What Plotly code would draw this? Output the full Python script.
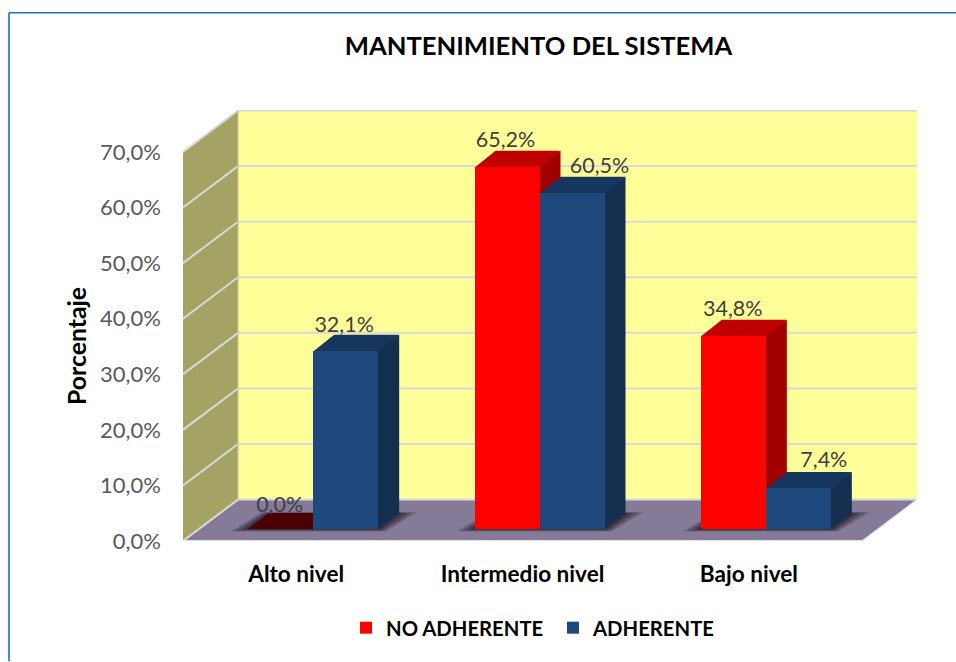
import plotly.graph_objects as go

# ---------- data ----------
categories = ["Alto nivel", "Intermedio nivel", "Bajo nivel"]
no_adherente = [0.0, 65.2, 34.8]
adherente = [32.1, 60.5, 7.4]
y_ticks = [0, 10, 20, 30, 40, 50, 60, 70]
y_tick_labels = ["0,0%", "10,0%", "20,0%", "30,0%", "40,0%", "50,0%", "60,0%", "70,0%"]
series_names = ["NO ADHERENTE", "ADHERENTE"]

# ---------- geometry (pixels of the figure, converted by the axis scale) ----------
W, H = 956, 662
L, R, T, B = 183, 917, 109.5, 541.5
PX_X = 226.33            # pixels per category
PX_Y = 5.571             # pixels per percentage point
WALL_DX, WALL_DY = 55 / PX_X, 41.5 / PX_Y      # depth of the floor
BAR_DX, BAR_DY = 21 / PX_X, 16 / PX_Y          # depth of a bar
BAR_W = 65 / PX_X
SHIFT_X, BASE = 17 / PX_X, 12 / PX_Y           # bars stand inside the floor
X_MAX, Y_MAX = (R - L) / PX_X, (B - T) / PX_Y
SEAM_X, SEAM_Y = 1 / PX_X, 1 / PX_Y            # depth faces tuck under the front faces

FONT = "Lato, Carlito, Calibri, sans-serif"
C_WALL, C_SIDE, C_FLOOR, C_GRID = "#FFFF99", "#A5A364", "#857A97", "#D9D9D9"
C = {
    "red": dict(front="#FF0000", top="#C00000", side="#A00000", zero="#4A0000"),
    "blue": dict(front="#1F497D", top="#17365D", side="#152F50", zero="#17365D"),
}


def poly(points, fill, line=None, opacity=1.0, layer="below", width=1):
    path = "M" + "L".join(f"{x:.5f},{y:.5f}" for x, y in points) + "Z"
    return dict(type="path", xref="x", yref="y", path=path, fillcolor=fill, opacity=opacity,
                layer=layer, line=dict(color=line or "rgba(0,0,0,0)", width=width if line else 0))


def seg(x0, y0, x1, y1, color=C_GRID, width=2):
    return dict(type="line", xref="x", yref="y", x0=x0, y0=y0, x1=x1, y1=y1, layer="below",
                line=dict(color=color, width=width))


shapes = []
# walls and floor
shapes.append(poly([(WALL_DX, WALL_DY), (X_MAX, WALL_DY), (X_MAX, Y_MAX), (WALL_DX, Y_MAX)], C_WALL))
shapes.append(poly([(0, 0), (WALL_DX, WALL_DY), (WALL_DX, Y_MAX), (0, 70)], C_SIDE))
shapes.append(poly([(0, 0), (X_MAX - WALL_DX, 0), (X_MAX, WALL_DY), (WALL_DX, WALL_DY)], C_FLOOR))
# gridlines on both walls
for t in y_ticks:
    shapes.append(seg(0, t, WALL_DX, t + WALL_DY))
    shapes.append(seg(WALL_DX, t + WALL_DY, X_MAX, t + WALL_DY))
shapes.append(seg(0, 0, X_MAX - WALL_DX, 0, "#E4E0EA", 2))
shapes.append(seg(X_MAX - WALL_DX, 0, X_MAX, WALL_DY, "#E4E0EA", 1.2))
shapes.append(seg(WALL_DX, WALL_DY, WALL_DX, Y_MAX, "#C9C78F", 1.2))

# soft shadow of each pair of bars on the floor
for i in range(len(categories)):
    cx = i + 0.5 + SHIFT_X
    x0, x1 = cx - BAR_W, cx + BAR_W
    for e in [18, 14, 10, 7, 4, 2]:
        ex = e / PX_X
        ey = (e / 7) / PX_Y
        shapes.append(poly([(x0 - ex, BASE - ey), (x1 + ex * 0.4, BASE - ey),
                            (x1 + BAR_DX + ex, BASE + BAR_DY + ey * 0.3), (x0 + BAR_DX - ex * 0.4, BASE + BAR_DY + ey * 0.3)],
                           "#1A1420", opacity=0.2))

# depth faces of the bars (red first, blue hides it)
for values, offs, key in [(no_adherente, -1, "red"), (adherente, 0, "blue")]:
    col = C[key]
    for i, v in enumerate(values):
        x0 = i + 0.5 + SHIFT_X + offs * BAR_W
        x1 = x0 + BAR_W
        top = BASE + v
        tuck = SEAM_Y if v > 0 else 0
        shapes.append(poly([(x1 - SEAM_X, BASE), (x1 + BAR_DX, BASE + BAR_DY), (x1 + BAR_DX, top + BAR_DY), (x1 - SEAM_X, top)], col["side"]))
        shapes.append(poly([(x0, top - tuck), (x1, top - tuck), (x1 + BAR_DX, top + BAR_DY), (x0 + BAR_DX, top + BAR_DY)],
                           col["top"] if v > 0 else col["zero"]))

# frame of the chart area (top and left only are on the page)
def px(x):
    return (x - L) / (R - L)


def py(y):
    return (B - y) / (B - T)


for a, b, c, d in [(9, 12, W, 12), (9, 12, 9, H)]:
    shapes.append(dict(type="line", xref="paper", yref="paper", x0=px(a), y0=py(b), x1=px(c), y1=py(d),
                       layer="above", line=dict(color="#1274C4", width=1.6)))

fig = go.Figure()
xs = [i + 0.5 + SHIFT_X for i in range(len(categories))]
bases = [BASE] * len(categories)
fig.add_trace(go.Bar(x=[x - BAR_W / 2 for x in xs], y=no_adherente, base=bases, width=BAR_W,
                     name=f"<b>{series_names[0]}</b>", marker=dict(color=C["red"]["front"], line=dict(width=0))))
fig.add_trace(go.Bar(x=[x + BAR_W / 2 for x in xs], y=adherente, base=bases, width=BAR_W,
                     name=f"<b>{series_names[1]}</b>", marker=dict(color=C["blue"]["front"], line=dict(width=0))))

# value labels, placed just over each bar
LABEL_DX = {0: [-1, -1.5, -0.5], 1: [-1.5, 27.5, 25.5]}
LABEL_DY = {0: [22, 25, 25], 1: [24, 25, 26]}
for s, (values, offs) in enumerate([(no_adherente, -0.5), (adherente, 0.5)]):
    fig.add_trace(go.Scatter(
        x=[x + offs * BAR_W + LABEL_DX[s][i] / PX_X for i, x in enumerate(xs)],
        y=[BASE + v + LABEL_DY[s][i] / PX_Y for i, v in enumerate(values)],
        mode="text", text=[f"{v:.1f}%".replace(".", ",") for v in values],
        textposition="middle center", textfont=dict(family=FONT, size=21.5, color="#404040"),
        showlegend=False, hoverinfo="skip", cliponaxis=False))

fig.update_layout(
    width=W, height=H, autosize=False,
    margin=dict(l=L, r=W - R, t=T, b=H - B),
    paper_bgcolor="white", plot_bgcolor="rgba(0,0,0,0)",
    barmode="overlay", shapes=shapes, bargap=0,
    title=dict(text="<b>MANTENIMIENTO DEL SISTEMA</b>", x=538.5 / W, xref="container", xanchor="center",
               y=1 - 46 / H, yanchor="middle", font=dict(family=FONT, size=25.6, color="black")),
    xaxis=dict(range=[0, X_MAX], tickvals=[0.5, 1.5, 2.5], ticktext=[f"<b>{c}</b>" for c in categories],
               showgrid=False, zeroline=False, showline=False, ticks="", ticklabelstandoff=17,
               tickfont=dict(family=FONT, size=22.6, color="black"), automargin=False),
    yaxis=dict(range=[0, Y_MAX], tickvals=y_ticks, ticktext=y_tick_labels,
               showgrid=False, zeroline=False, showline=False, ticks="", ticklabelstandoff=21,
               tickfont=dict(family=FONT, size=22, color="#595959"), automargin=False),
    legend=dict(orientation="h", x=(386 - 40) / W, xref="container", xanchor="left", y=1 - 628 / H, yref="container",
                yanchor="middle", entrywidth=162, entrywidthmode="pixels", traceorder="normal",
                font=dict(family=FONT, size=20.3, color="black"), bgcolor="rgba(0,0,0,0)"),
    annotations=[dict(text="<b>Porcentaje</b>", xref="paper", yref="paper", x=px(77), y=py(346),
                      textangle=-90, showarrow=False, xanchor="center", yanchor="middle",
                      font=dict(family=FONT, size=24.8, color="black"))],
)

fig.write_html("out.html", config={"displayModeBar": False}, post_script="document.body.style.margin='0';")
